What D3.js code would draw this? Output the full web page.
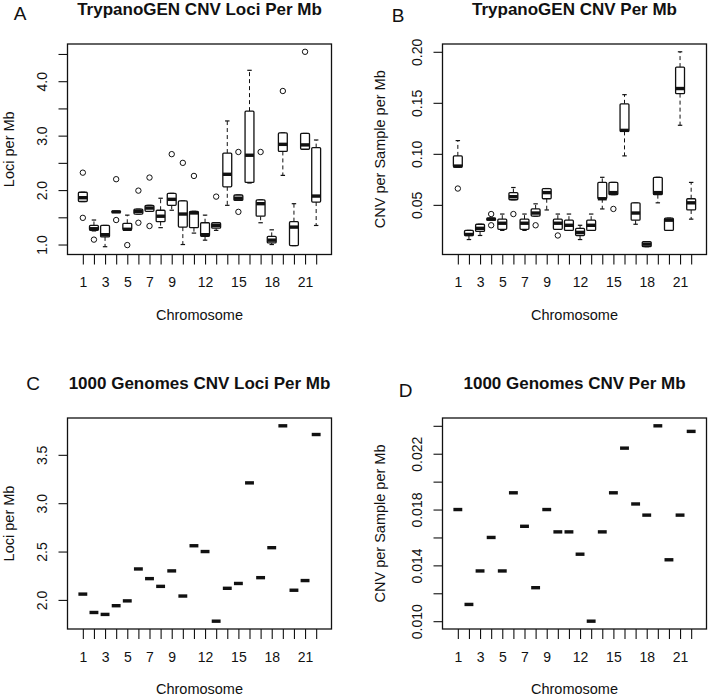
<!DOCTYPE html>
<html>
<head>
<meta charset="utf-8">
<script src="https://cdn.jsdelivr.net/npm/d3@7"></script>
<style>
  body { margin: 0; background: #fff; }
  svg { display: block; font-family: "Liberation Sans", Arial, sans-serif; }
</style>
</head>
<body>
<svg id="chart" width="709" height="698"></svg>
<script>
// chromosomes on the x axis, only some get a printed label (R drops overlapping ones)
const chromosomes = [1, 2, 3, 4, 5, 6, 7, 8, 9, 10, 11, 12, 13, 14, 15, 16, 17, 18, 19, 20, 21, 22];
const xLabelShown = [1, 3, 5, 7, 9, 12, 15, 18, 21];

// A: TrypanoGEN CNV loci per Mb (boxplot stats per chromosome)
const aLow  = [1.79, 1.25, 0.96, 1.59, 1.27, 1.56, 1.61, 1.31, 1.63, 1.00, 1.21, 1.08, 1.26, 1.72, 1.81, 2.13, 1.40, 1.00, 2.27, 0.98, 2.75, 1.35];
const aQ1   = [1.79, 1.26, 1.14, 1.59, 1.27, 1.56, 1.61, 1.42, 1.72, 1.32, 1.31, 1.15, 1.30, 2.06, 1.81, 2.14, 1.52, 1.03, 2.71, 0.98, 2.75, 1.78];
const aMed  = [1.86, 1.29, 1.18, 1.60, 1.28, 1.61, 1.67, 1.52, 1.83, 1.56, 1.58, 1.18, 1.35, 2.29, 1.85, 2.64, 1.75, 1.08, 2.84, 1.32, 2.83, 1.89];
const aQ3   = [1.96, 1.35, 1.35, 1.61, 1.39, 1.65, 1.72, 1.63, 1.94, 1.80, 1.61, 1.40, 1.40, 2.68, 1.91, 3.45, 1.82, 1.15, 3.05, 1.42, 3.04, 2.78];
const aHigh = [1.96, 1.45, 1.35, 1.61, 1.54, 1.65, 1.72, 1.85, 1.94, 1.80, 1.61, 1.54, 1.40, 3.27, 1.91, 4.20, 1.82, 1.27, 3.05, 1.75, 3.04, 2.92];
const aOut  = [[2.32, 1.49], [1.09], [], [2.20, 1.45], [0.99], [1.99, 1.40], [2.23, 1.34], [], [2.66], [2.50], [2.26], [], [1.88], [], [2.70, 1.60], [], [2.70], [], [3.82], [], [4.54], []];
const aTicks = [1.0, 1.5, 2.0, 2.5, 3.0, 3.5, 4.0, 4.5];
const aTickLabels = [1.0, 2.0, 3.0, 4.0];

// B: TrypanoGEN CNV per sample per Mb
const bLow  = [0.087, 0.016, 0.020, 0.035, 0.025, 0.055, 0.025, 0.039, 0.045, 0.026, 0.025, 0.016, 0.025, 0.046, 0.060, 0.098, 0.031, 0.009, 0.052, 0.025, 0.128, 0.036];
const bQ1   = [0.087, 0.020, 0.024, 0.035, 0.026, 0.055, 0.026, 0.039, 0.056, 0.026, 0.025, 0.020, 0.025, 0.056, 0.060, 0.122, 0.035, 0.009, 0.060, 0.025, 0.159, 0.045];
const bMed  = [0.088, 0.021, 0.027, 0.036, 0.032, 0.058, 0.032, 0.042, 0.062, 0.032, 0.030, 0.023, 0.030, 0.056, 0.062, 0.123, 0.042, 0.0115, 0.062, 0.035, 0.164, 0.052];
const bQ3   = [0.098, 0.025, 0.031, 0.037, 0.036, 0.062, 0.036, 0.046, 0.066, 0.036, 0.035, 0.027, 0.035, 0.072, 0.072, 0.149, 0.052, 0.014, 0.077, 0.037, 0.185, 0.056];
const bHigh = [0.113, 0.025, 0.031, 0.037, 0.041, 0.067, 0.041, 0.051, 0.066, 0.041, 0.041, 0.030, 0.041, 0.077, 0.072, 0.158, 0.052, 0.014, 0.077, 0.037, 0.200, 0.072];
const bOut  = [[0.066], [], [], [0.041, 0.030], [], [0.041], [], [0.030], [], [0.020], [], [], [], [], [0.046], [], [], [], [], [], [], []];
const bTicks = [0.05, 0.10, 0.15, 0.20];
const bTickLabels = [0.05, 0.10, 0.15, 0.20];

// C: 1000 Genomes CNV loci per Mb (one value per chromosome)
const cLoci = [2.06, 1.87, 1.85, 1.94, 1.99, 2.32, 2.22, 2.14, 2.30, 2.04, 2.56, 2.50, 1.78, 2.12, 2.17, 3.21, 2.23, 2.54, 3.80, 2.10, 2.20, 3.71];
const cTicks = [2.0, 2.5, 3.0, 3.5];
const cTickLabels = [2.0, 2.5, 3.0, 3.5];

// D: 1000 Genomes CNV per sample per Mb
const dCnv = [0.0180, 0.0112, 0.0136, 0.0160, 0.0136, 0.0192, 0.0168, 0.0124, 0.0180, 0.0164, 0.0164, 0.0148, 0.0100, 0.0164, 0.0192, 0.0224, 0.0184, 0.0176, 0.0240, 0.0144, 0.0176, 0.0236];
const dTicks = [0.010, 0.012, 0.014, 0.016, 0.018, 0.020, 0.022, 0.024];
const dTickLabels = [0.010, 0.014, 0.018, 0.022];

const svg = d3.select('#chart');
const ink = '#111';

function boxStats(low, q1, med, q3, high, out) {
    return chromosomes.map((c, i) => ({
        c, low: low[i], q1: q1[i], med: med[i], q3: q3[i], high: high[i], out: out ? out[i] : []
    }));
}

function singleStats(vals) {
    return chromosomes.map((c, i) => ({
        c, low: vals[i], q1: vals[i], med: vals[i], q3: vals[i], high: vals[i], out: []
    }));
}

const panels = [
    { letter: 'A', title: 'TrypanoGEN CNV Loci Per Mb', ylab: 'Loci per Mb',
      left: 67.5, right: 331.5, top: 44, bottom: 254.5,
      letterX: 20, letterY: 20, ylabX: 14,
      stats: boxStats(aLow, aQ1, aMed, aQ3, aHigh, aOut),
      ticks: aTicks, tickLabels: aTickLabels, fmt: d3.format('.1f') },
    { letter: 'B', title: 'TrypanoGEN CNV Per Mb', ylab: 'CNV per Sample per Mb',
      left: 442.5, right: 706.5, top: 44, bottom: 254.5,
      letterX: 398, letterY: 21.5, ylabX: 385,
      stats: boxStats(bLow, bQ1, bMed, bQ3, bHigh, bOut),
      ticks: bTicks, tickLabels: bTickLabels, fmt: d3.format('.2f') },
    { letter: 'C', title: '1000 Genomes CNV Loci Per Mb', ylab: 'Loci per Mb',
      left: 67.5, right: 331.5, top: 418, bottom: 629,
      letterX: 33, letterY: 390, ylabX: 14,
      stats: singleStats(cLoci),
      ticks: cTicks, tickLabels: cTickLabels, fmt: d3.format('.1f') },
    { letter: 'D', title: '1000 Genomes CNV Per Mb', ylab: 'CNV per Sample per Mb',
      left: 442.5, right: 706.5, top: 418, bottom: 629,
      letterX: 405.5, letterY: 397, ylabX: 385,
      stats: singleStats(dCnv),
      ticks: dTicks, tickLabels: dTickLabels, fmt: d3.format('.3f') }
];

panels.forEach(drawPanel);

function drawPanel(p) {
    const innerWidth = p.right - p.left;
    const innerHeight = p.bottom - p.top;
    const n = chromosomes.length;

    // R style axis ranges: 4% padding around the data / group positions
    const xPad = 0.04 * n;
    const xScale = d3.scaleLinear()
        .domain([0.5 - xPad, n + 0.5 + xPad])
        .range([0, innerWidth]);

    const allVals = p.stats.flatMap(d => [d.low, d.high, ...d.out]);
    const [lo, hi] = d3.extent(allVals);
    const yPad = (hi - lo) * 0.04;
    const yScale = d3.scaleLinear()
        .domain([lo - yPad, hi + yPad])
        .range([innerHeight, 0]);

    const g = svg.append('g')
        .attr('transform', `translate(${p.left}, ${p.top})`);

    // bottom axis: a tick for every chromosome
    const xAxis = g.append('g')
        .attr('transform', `translate(0, ${innerHeight})`)
        .call(d3.axisBottom(xScale)
            .tickValues(chromosomes)
            .tickSize(10)
            .tickPadding(13)
            .tickFormat(d => xLabelShown.includes(d) ? d : ''));
    xAxis.select('.domain').remove();
    xAxis.selectAll('line').attr('stroke', ink).attr('stroke-width', 1.1);
    xAxis.selectAll('text')
        .attr('fill', ink)
        .style('font-size', '14px')
        .style('font-family', 'Liberation Sans, Arial, sans-serif');

    // left axis, labels rotated like R's las=0
    const yAxis = g.append('g')
        .call(d3.axisLeft(yScale)
            .tickValues(p.ticks)
            .tickSize(9)
            .tickFormat(d => p.tickLabels.some(v => Math.abs(v - d) < 1e-9) ? p.fmt(d) : ''));
    yAxis.select('.domain').remove();
    yAxis.selectAll('line').attr('stroke', ink).attr('stroke-width', 1.1);
    yAxis.selectAll('text')
        .attr('fill', ink)
        .attr('transform', 'rotate(-90)')
        .attr('x', 0)
        .attr('y', -21)
        .attr('dy', 0)
        .attr('text-anchor', 'middle')
        .style('font-size', '14px')
        .style('font-family', 'Liberation Sans, Arial, sans-serif');

    // plot frame
    g.append('rect')
        .attr('width', innerWidth)
        .attr('height', innerHeight)
        .attr('fill', 'none')
        .attr('stroke', ink)
        .attr('stroke-width', 1.3);

    const boxW = xScale(1.8) - xScale(1);
    const capW = boxW / 2;

    const groups = g.append('g')
        .selectAll('g')
        .data(p.stats)
        .join('g')
        .attr('transform', d => `translate(${xScale(d.c)}, 0)`);

    // whiskers
    groups.filter(d => d.high > d.q3)
        .append('line')
        .attr('y1', d => yScale(d.q3))
        .attr('y2', d => yScale(d.high))
        .attr('stroke', ink)
        .attr('stroke-dasharray', '4,3');
    groups.filter(d => d.low < d.q1)
        .append('line')
        .attr('y1', d => yScale(d.q1))
        .attr('y2', d => yScale(d.low))
        .attr('stroke', ink)
        .attr('stroke-dasharray', '4,3');

    // staples
    groups.append('line')
        .attr('x1', -capW / 2).attr('x2', capW / 2)
        .attr('y1', d => yScale(d.high)).attr('y2', d => yScale(d.high))
        .attr('stroke', ink).attr('stroke-width', 1.2);
    groups.append('line')
        .attr('x1', -capW / 2).attr('x2', capW / 2)
        .attr('y1', d => yScale(d.low)).attr('y2', d => yScale(d.low))
        .attr('stroke', ink).attr('stroke-width', 1.2);

    // boxes
    groups.append('rect')
        .attr('x', -boxW / 2)
        .attr('width', boxW)
        .attr('y', d => yScale(d.q3))
        .attr('height', d => yScale(d.q1) - yScale(d.q3))
        .attr('fill', '#fff')
        .attr('stroke', ink)
        .attr('stroke-width', 1.3)
        .attr('rx', 1);

    // medians
    groups.append('line')
        .attr('x1', -boxW / 2).attr('x2', boxW / 2)
        .attr('y1', d => yScale(d.med)).attr('y2', d => yScale(d.med))
        .attr('stroke', ink)
        .attr('stroke-width', 3.4);

    // outliers
    groups.selectAll('circle')
        .data(d => d.out)
        .join('circle')
        .attr('cy', d => yScale(d))
        .attr('r', 2.7)
        .attr('fill', 'none')
        .attr('stroke', ink)
        .attr('stroke-width', 1);

    // titles and labels
    svg.append('text')
        .attr('x', p.left + innerWidth / 2)
        .attr('y', p.top - 29)
        .attr('text-anchor', 'middle')
        .attr('fill', ink)
        .style('font-size', '17px')
        .style('font-weight', 'bold')
        .text(p.title);

    svg.append('text')
        .attr('x', p.letterX)
        .attr('y', p.letterY)
        .attr('text-anchor', 'middle')
        .attr('fill', ink)
        .style('font-size', '19px')
        .text(p.letter);

    svg.append('text')
        .attr('x', p.left + innerWidth / 2)
        .attr('y', p.bottom + 65)
        .attr('text-anchor', 'middle')
        .attr('fill', ink)
        .style('font-size', '14.5px')
        .text('Chromosome');

    svg.append('text')
        .attr('transform', `translate(${p.ylabX}, ${p.top + innerHeight / 2}) rotate(-90)`)
        .attr('text-anchor', 'middle')
        .attr('fill', ink)
        .style('font-size', '14.5px')
        .text(p.ylab);
}
</script>
</body>
</html>
